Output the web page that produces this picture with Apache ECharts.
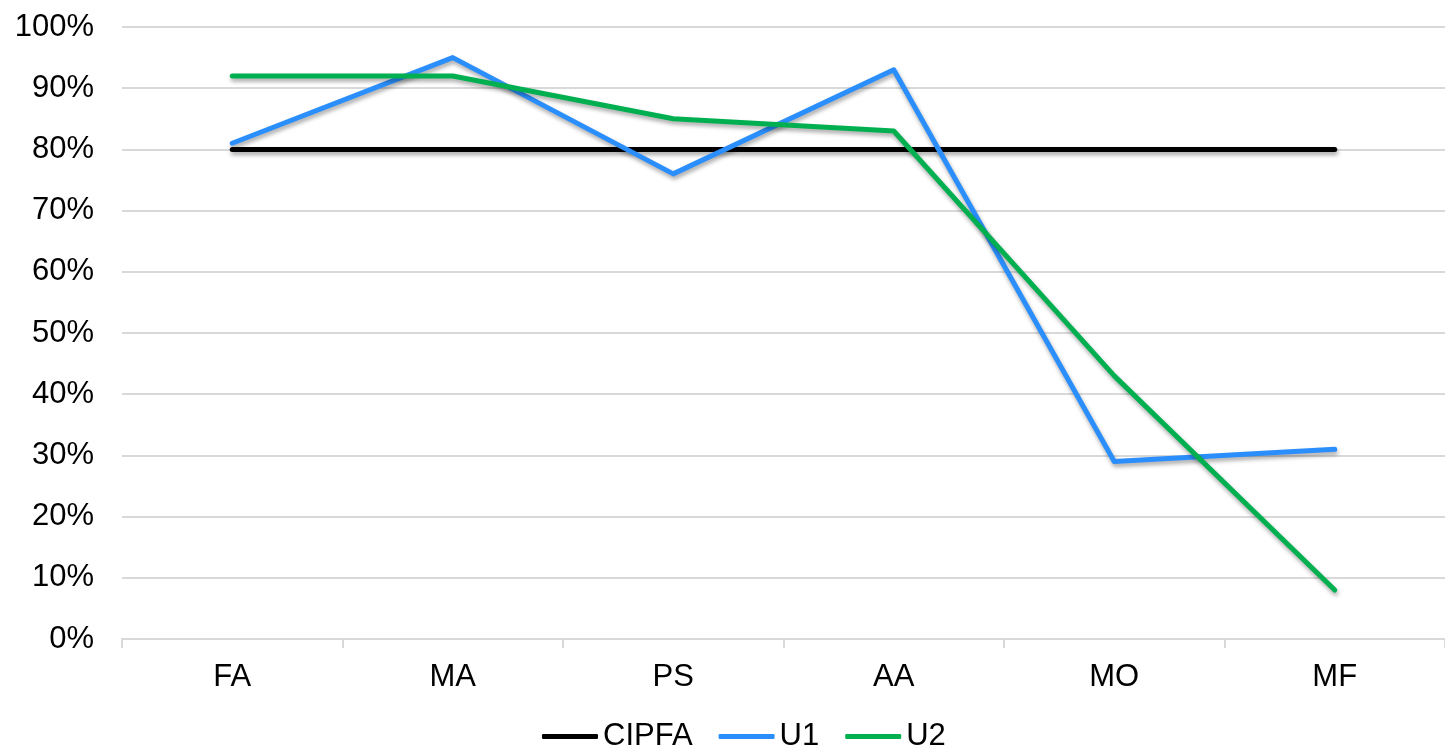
<!DOCTYPE html>
<html>
<head>
<meta charset="utf-8">
<script src="https://cdn.jsdelivr.net/npm/echarts@6/dist/echarts.min.js"></script>
<style>
  html, body { margin: 0; padding: 0; background: #fff; }
  #main { width: 1445px; height: 750px; }
</style>
</head>
<body>
<div id="main"></div>
<script>
// categories and values (percent)
var categories = ['FA', 'MA', 'PS', 'AA', 'MO', 'MF'];
var cipfa = [80, 80, 80, 80, 80, 80];
var u1 = [81, 95, 76, 93, 29, 31];
var u2 = [92, 92, 85, 83, 43, 8];

var chart = echarts.init(document.getElementById('main'));

function lineSeries(name, data, color) {
  return {
    name: name,
    type: 'line',
    data: data,
    symbol: 'none',
    lineStyle: {
      color: color,
      width: 5,
      cap: 'round',
      join: 'round',
      shadowColor: 'rgba(0,0,0,0.35)',
      shadowBlur: 4,
      shadowOffsetX: 1,
      shadowOffsetY: 3
    },
    itemStyle: { color: color }
  };
}

var option = {
  animation: false,
  textStyle: { fontFamily: 'Liberation Sans, Arial, sans-serif' },
  grid: {
    left: 122,
    right: -6,
    top: 27,
    bottom: 111
  },
  legend: {
    bottom: -7,
    left: 537,
    itemWidth: 56,
    itemHeight: 5,
    itemGap: 26,
    icon: 'roundRect',
    textStyle: { fontSize: 31, color: '#000' },
    data: ['CIPFA', 'U1', 'U2']
  },
  xAxis: {
    type: 'category',
    data: categories,
    boundaryGap: true,
    axisLine: { lineStyle: { color: '#d9d9d9', width: 2 } },
    axisTick: { show: true, length: 9, lineStyle: { color: '#d9d9d9', width: 2 } },
    axisLabel: { fontSize: 31, color: '#000', margin: 23 }
  },
  yAxis: {
    type: 'value',
    min: 0,
    max: 100,
    interval: 10,
    axisLine: { show: false },
    axisTick: { show: false },
    axisLabel: { fontSize: 31, color: '#000', margin: 28, formatter: '{value}%' },
    splitLine: { lineStyle: { color: '#d9d9d9', width: 2 } }
  },
  series: [
    lineSeries('CIPFA', cipfa, '#000000'),
    lineSeries('U1', u1, '#2a8ffc'),
    lineSeries('U2', u2, '#00b050')
  ]
};

chart.setOption(option);
</script>
</body>
</html>
